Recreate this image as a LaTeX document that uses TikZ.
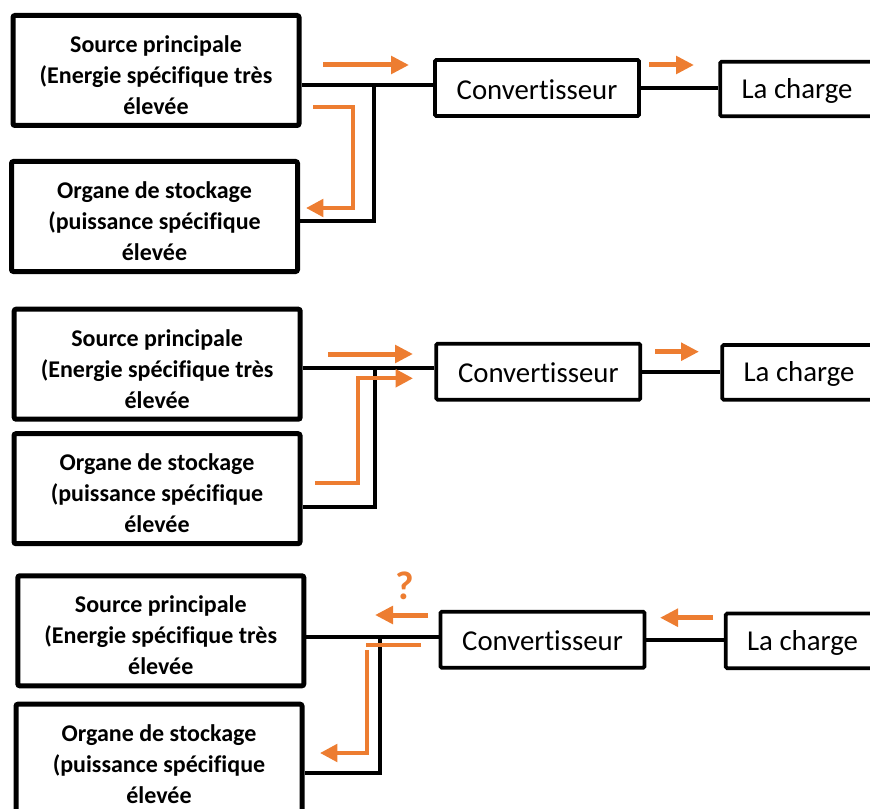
\documentclass[tikz,border=0pt]{standalone}
\usepackage{fontspec}
\setmainfont{Carlito}[Ligatures=NoCommon]
\usetikzlibrary{arrows.meta}
\definecolor{org}{HTML}{ED7D31}
\newcommand\tstrut{\rule{0pt}{19.5pt}}
\begin{document}
\begin{tikzpicture}[x=0.75pt,y=-0.75pt,
  bigbox/.style={draw=black,line width=3.75pt,rounded corners=1.5pt,minimum width=214.5pt,minimum height=82.5pt,inner sep=0pt,align=center,font=\fontsize{18pt}{23.25pt}\selectfont\bfseries},
  conv/.style={draw=black,line width=2.8pt,rounded corners=1pt,minimum width=153pt,minimum height=42pt,inner sep=0pt,font=\fontsize{21.6pt}{26pt}\selectfont},
  charge/.style={draw=black,line width=2.8pt,rounded corners=1pt,minimum width=115pt,minimum height=41pt,inner sep=0pt,font=\fontsize{21.6pt}{26pt}\selectfont},
  wire/.style={draw=black,line width=2.8pt,line join=miter},
  oarrow/.style={draw=org,line width=3.75pt,-{Triangle[length=13.5pt,width=13pt]}},
  obrack/.style={draw=org,line width=3pt,line join=miter,-{Triangle[length=13pt,width=13pt]}},
  oline/.style={draw=org,line width=3pt},
  qmark/.style={text=org,inner sep=0pt,font=\fontsize{30pt}{34pt}\selectfont\bfseries}]
\useasboundingbox (0,0) rectangle (870,809);
\clip (0,0) rectangle (870,809);

% ---------- Panel 1 ----------
\node[bigbox] (S1) at (156,70.5) {\tstrut Source principale\\(Energie spécifique très\\élevée};
\node[bigbox] (O1) at (154.5,216.5) {\tstrut Organe de stockage\\(puissance spécifique\\élevée};
\node[conv] (C1) at (537,88) {\rule{0pt}{17pt}Convertisseur};
\node[charge] (L1) at (797,89) {\rule{0pt}{18pt}La charge};
\coordinate (J1) at (374,85);
\coordinate (K1) at (374,221);
\draw[wire] (S1.east |- J1) -- (C1.west |- J1);
\draw[wire] (J1) -- (K1) -- (O1.east |- K1);
\draw[wire] (C1.east) -- (C1.east -| L1.west);
\coordinate (a1s) at (323,65); \coordinate (a1e) at (409,65);
\draw[oarrow] (a1s) -- (a1e);
\coordinate (b1a) at (313,107); \coordinate (b1b) at (353,107);
\coordinate (b1c) at (353,208); \coordinate (b1d) at (306,208);
\draw[obrack] (b1a) -- (b1b) -- (b1c) -- (b1d);
\coordinate (c1s) at (649,65); \coordinate (c1e) at (694,65);
\draw[oarrow] (c1s) -- (c1e);

% ---------- Panel 2 ----------
\node[bigbox] (S2) at (157.2,364.2) {\tstrut Source principale\\(Energie spécifique très\\élevée};
\node[bigbox] (O2) at (157,488.7) {\tstrut Organe de stockage\\(puissance spécifique\\élevée};
\node[conv] (C2) at (538.3,371.7) {\rule{0pt}{17pt}Convertisseur};
\node[charge] (L2) at (799,372.3) {\rule{0pt}{18pt}La charge};
\coordinate (J2) at (375,368.3);
\coordinate (K2) at (375,506.7);
\draw[wire] (S2.east |- J2) -- (C2.west |- J2);
\draw[wire] (J2) -- (K2) -- (O2.east |- K2);
\draw[wire] (C2.east) -- (C2.east -| L2.west);
\coordinate (a2s) at (328,354); \coordinate (a2e) at (413,354);
\draw[oarrow] (a2s) -- (a2e);
\coordinate (b2a) at (315,483.3); \coordinate (b2b) at (358,483.3);
\coordinate (b2c) at (358,378.3); \coordinate (b2d) at (413,378.3);
\draw[obrack] (b2a) -- (b2b) -- (b2c) -- (b2d);
\coordinate (c2s) at (655,351.7); \coordinate (c2e) at (699,351.7);
\draw[oarrow] (c2s) -- (c2e);

% ---------- Panel 3 ----------
\node[bigbox] (S3) at (160.8,630.8) {\tstrut Source principale\\(Energie spécifique très\\élevée};
\node[bigbox] (O3) at (159,759.2) {\tstrut Organe de stockage\\(puissance spécifique\\élevée};
\node[conv] (C3) at (542.5,639.7) {\rule{0pt}{17pt}Convertisseur};
\node[charge] (L3) at (802.5,640.8) {\rule{0pt}{18pt}La charge};
\coordinate (J3) at (380,636.7);
\coordinate (K3) at (380,773.3);
\draw[wire] (S3.east |- J3) -- (C3.west |- J3);
\draw[wire] (J3) -- (K3) -- (O3.east |- K3);
\draw[wire] (C3.east) -- (C3.east -| L3.west);
\node[qmark] (Q3) at (405,586) {?};
\coordinate (a3s) at (428,615); \coordinate (a3e) at (375,615);
\draw[oarrow] (a3s) -- (a3e);
\coordinate (h3a) at (421,645); \coordinate (h3b) at (366,645);
\draw[oline] (h3a) -- (h3b);
\coordinate (b3a) at (367,650); \coordinate (b3b) at (367,753);
\coordinate (b3c) at (320,753);
\draw[obrack] (b3a) -- (b3b) -- (b3c);
\coordinate (c3s) at (713,617.7); \coordinate (c3e) at (660,617.7);
\draw[oarrow] (c3s) -- (c3e);
\end{tikzpicture}
\end{document}
